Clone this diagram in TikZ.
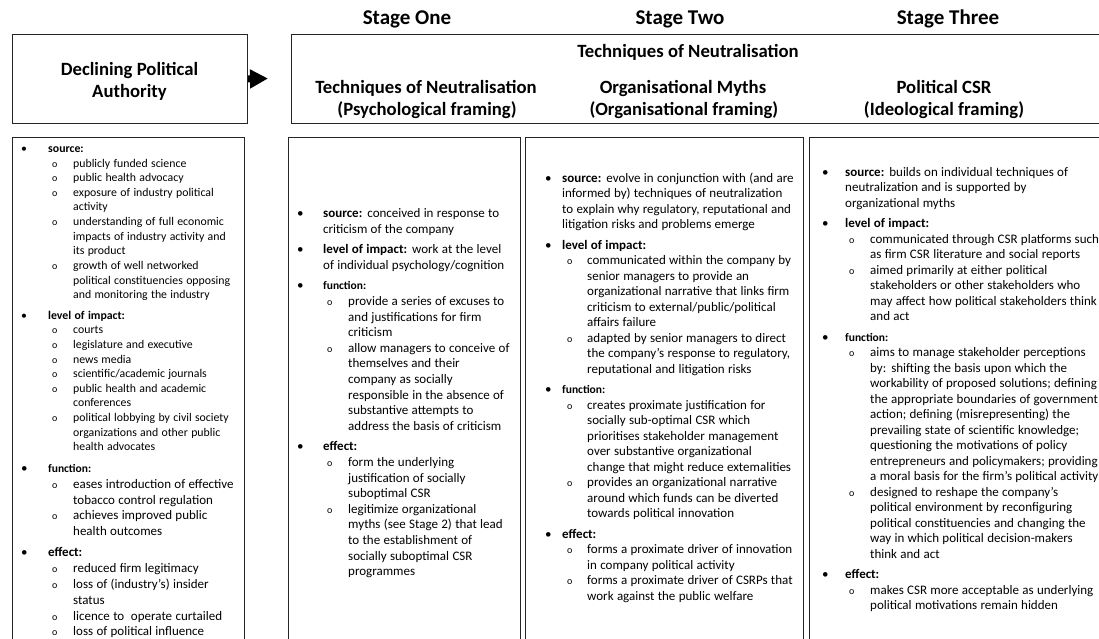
\documentclass[tikz,border=0pt]{standalone}
\usepackage{fontspec}
\setmainfont{Carlito}
\usetikzlibrary{arrows.meta}
\newlength\Bx \newlength\Tx \newlength\Ox \newlength\Sx
\newcommand\setcol[4]{\setlength\Bx{#1pt}\setlength\Tx{#2pt}\setlength\Ox{#3pt}\setlength\Sx{#4pt}}
\newcommand\Bul[1]{\par\hangindent=\Tx\hangafter=1\noindent\strut\hbox to\Tx{\hskip\Bx\textbullet\hfil}#1\par}
\newcommand\Sub[1]{\par\hangindent=\Sx\hangafter=1\noindent\strut\hbox to\Sx{\hskip\Ox{\fontsize{10}{10}\selectfont o}\hfil}#1\par}
\newcommand\Gp[1][5]{\vspace{#1pt}}
\newcommand\fnhead[1]{{\fontsize{11.5}{11.5}\selectfont\bfseries #1}}
\newcommand\bodyA{\fontsize{13}{15.8}\selectfont}
\newcommand\bodyB{\fontsize{13}{15.6}\selectfont}
\newcommand\bodyC{\fontsize{13}{15.5}\selectfont}
\newcommand\bodyS{\fontsize{11.8}{14.6}\selectfont}
\begin{document}
\begin{tikzpicture}[x=1pt,y=-1pt,
  frame/.style={draw=black!85, line width=0.9pt, inner sep=0pt},
  stagelbl/.style={font=\fontsize{21}{24}\selectfont\bfseries, anchor=base, inner sep=0pt},
  headtxt/.style={font=\fontsize{18.7}{22}\selectfont\bfseries, anchor=base, inner sep=0pt},
  coltext/.style={anchor=north west, inner sep=0pt, text width=330pt},
  flow/.style={line width=7pt, -{Triangle[length=18pt 0, width=18pt 0]}}
]
\fill[white] (0,0) rectangle (1099,639);
\useasboundingbox (0,0) rectangle (1099,639);
\begin{scope}
\clip (0,0) rectangle (1099,639);
% header boxes
\node[frame, anchor=north west, minimum width=235, minimum height=89] (declbox) at (12,34) {};
\node[frame, anchor=north west, minimum width=830, minimum height=89] (techbox) at (291,34) {};
\coordinate (arrtip) at (268,78.5);
\draw[flow] (declbox.east) -- (arrtip);
% header texts
\node[headtxt] (decl1) at (129.5,76) {Declining Political};
\node[headtxt] (decl2) at (129.5,98) {Authority};
\node[stagelbl] (stage1) at (407,25) {Stage One};
\node[stagelbl] (stage2) at (680,25) {Stage Two};
\node[stagelbl] (stage3) at (948,25) {Stage Three};
\node[headtxt] (tn) at (688,58) {Techniques of Neutralisation};
\node[headtxt] (h1a) at (426,94) {Techniques of Neutralisation};
\node[headtxt] (h1b) at (427,116) {(Psychological framing)};
\node[headtxt] (h2a) at (683,94) {Organisational Myths};
\node[headtxt] (h2b) at (684,116) {(Organisational framing)};
\node[headtxt] (h3a) at (944,94) {Political CSR};
\node[headtxt] (h3b) at (944,116) {(Ideological framing)};
% column boxes
\node[frame, anchor=north west, minimum width=232, minimum height=560] (c0) at (12,137) {};
\node[frame, anchor=north west, minimum width=232, minimum height=560] (c1) at (288,137) {};
\node[frame, anchor=north west, minimum width=278, minimum height=560] (c2) at (525,137) {};
\node[frame, anchor=north west, minimum width=320, minimum height=560] (c3) at (809,137) {};
% column 0
\node[coltext] (t0) at (12,137.8) {\setcol{9}{36}{40}{61}\bodyS
\Bul{\textbf{source:}}
\Sub{publicly funded science}
\Sub{public health advocacy}
\Sub{exposure of industry political\newline activity}
\Sub{understanding of full economic\newline impacts of industry activity and\newline its product}
\Sub{growth of well networked\newline political constituencies opposing\newline and monitoring the industry}
\Gp[6]
\Bul{\textbf{level of impact:}}
\Sub{courts}
\Sub{legislature and executive}
\Sub{news media}
\Sub{scientific/academic journals}
\Sub{public health and academic\newline conferences}
\Sub{political lobbying by civil society\newline organizations and other public\newline health advocates}
\Gp[6]\bodyA
\Bul{\fnhead{function:}}
\Sub{eases introduction of effective\newline tobacco control regulation}
\Sub{achieves improved public\newline health outcomes}
\Gp[5.5]
\Bul{\textbf{effect:}}
\Sub{reduced firm legitimacy}
\Sub{loss of (industry’s) insider\newline status}
\Sub{licence to\ \ operate curtailed}
\Sub{loss of political influence}
};
% column 1
\node[coltext] (t1) at (288,201.6) {\setcol{9}{35}{39}{60}\bodyB
\Bul{\textbf{source:} conceived in response to\newline criticism of the company}
\Gp
\Bul{\textbf{level of impact:} work at the level\newline of individual psychology/cognition}
\Gp
\Bul{\fnhead{function:}}
\Sub{provide a series of excuses to\newline and justifications for firm\newline criticism}
\Sub{allow managers to conceive of\newline themselves and their\newline company as socially\newline responsible in the absence of\newline substantive attempts to\newline address the basis of criticism}
\Gp
\Bul{\textbf{effect:}}
\Sub{form the underlying\newline justification of socially\newline suboptimal CSR}
\Sub{legitimize organizational\newline myths (see Stage 2) that lead\newline to the establishment of\newline socially suboptimal CSR\newline programmes}
};
% column 2
\node[coltext] (t2) at (525,166.6) {\setcol{20}{37}{42}{62}\bodyC
\Bul{\textbf{source:} evolve in conjunction with (and are\newline informed by) techniques of neutralization\newline to explain why regulatory, reputational and\newline litigation risks and problems emerge}
\Gp
\Bul{\textbf{level of impact:}}
\Sub{communicated within the company by\newline senior managers to provide an\newline organizational narrative that links firm\newline criticism to external/public/political\newline affairs failure}
\Sub{adapted by senior managers to direct\newline the company’s response to regulatory,\newline reputational and litigation risks}
\Gp
\Bul{\fnhead{function:}}
\Sub{creates proximate justification for\newline socially sub-optimal CSR which\newline prioritises stakeholder management\newline over substantive organizational\newline change that might reduce extemalities}
\Sub{provides an organizational narrative\newline around which funds can be diverted\newline towards political innovation}
\Gp
\Bul{\textbf{effect:}}
\Sub{forms a proximate driver of innovation\newline in company political activity}
\Sub{forms a proximate driver of CSRPs that\newline work against the public welfare}
};
% column 3
\node[coltext] (t3) at (809,160.6) {\setcol{13}{36}{40}{61}\bodyC
\Bul{\textbf{source:} builds on individual techniques of\newline neutralization and is supported by\newline organizational myths}
\Gp
\Bul{\textbf{level of impact:}}
\Sub{communicated through CSR platforms such\newline as firm CSR literature and social reports}
\Sub{aimed primarily at either political\newline stakeholders or other stakeholders who\newline may affect how political stakeholders think\newline and act}
\Gp
\Bul{\fnhead{function:}}
\Sub{aims to manage stakeholder perceptions\newline by: shifting the basis upon which the\newline workability of proposed solutions; defining\newline the appropriate boundaries of government\newline action; defining (misrepresenting) the\newline prevailing state of scientific knowledge;\newline questioning the motivations of policy\newline entrepreneurs and policymakers; providing\newline a moral basis for the firm’s political activity}
\Sub{designed to reshape the company’s\newline political environment by reconfiguring\newline political constituencies and changing the\newline way in which political decision-makers\newline think and act}
\Gp
\Bul{\textbf{effect:}}
\Sub{makes CSR more acceptable as underlying\newline political motivations remain hidden}
};
\end{scope}
\end{tikzpicture}
\end{document}
